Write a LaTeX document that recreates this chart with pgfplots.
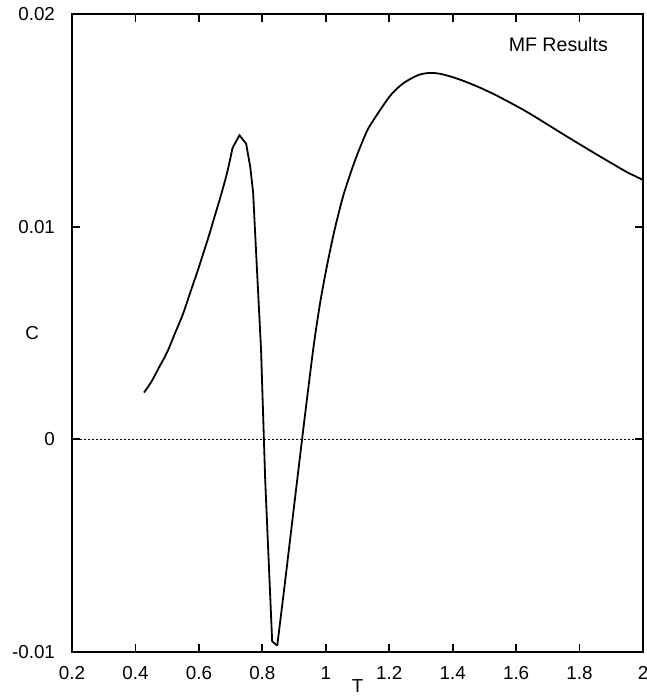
\documentclass[border=0pt]{standalone}
\usepackage{pgfplots}
\pgfplotsset{compat=1.18}
\usepackage{fontspec}
\setmainfont{Liberation Sans}

\begin{document}
\begin{tikzpicture}
  % 1 px of the reference = 0.5pt
  \useasboundingbox (-36pt,-22pt) rectangle (287.5pt,326pt);
  \begin{axis}[
      scale only axis,
      width=285.5pt, height=319pt,
      xmin=0.2, xmax=2, ymin=-0.01, ymax=0.02,
      xtick={0.2,0.4,0.6,0.8,1,1.2,1.4,1.6,1.8,2},
      xticklabels={0.2,0.4,0.6,0.8,1,1.2,1.4,1.6,1.8,2},
      ytick={-0.01,0,0.01,0.02},
      yticklabels={-0.01,0,0.01,0.02},
      scaled y ticks=false,
      tick align=inside,
      major tick length=4pt,
      tick style={line width=0.9pt, black},
      axis line style={line width=1.2pt},
      tick label style={font=\fontsize{9.4pt}{11pt}\selectfont},
      xticklabel style={yshift=-3.5pt},
      yticklabel style={xshift=-5pt},
      label style={font=\fontsize{9.4pt}{11pt}\selectfont},
      xlabel={T},
      xlabel style={at={(axis description cs:0.5,0)}, anchor=north, inner sep=0pt, yshift=-13.5pt},
      ylabel={C},
      ylabel style={rotate=-90, at={(axis description cs:0,0.5)}, anchor=east, xshift=-13pt},
    ]
    \addplot[black, line width=0.3pt, dash pattern=on 1pt off 1pt] coordinates {(0.2,0) (2,0)};
    % smooth rise
    \addplot[black, line width=0.9pt, smooth] coordinates {
      (0.427,0.0022) (0.45,0.0027) (0.475,0.0034) (0.50,0.0041) (0.525,0.0050)
      (0.55,0.0059) (0.575,0.0070) (0.60,0.0081) (0.63,0.0095) (0.65,0.0105)
      (0.67,0.0115) (0.69,0.0126) (0.706,0.0137)
    };
    % sharp peak and dip
    \addplot[black, line width=0.9pt] coordinates {
      (0.706,0.0137) (0.728,0.0143) (0.749,0.0139) (0.762,0.0128) (0.771,0.0116)
      (0.780,0.0089) (0.796,0.0042) (0.809,-0.0019) (0.831,-0.0095) (0.847,-0.0097)
    };
    % recovery and broad maximum
    \addplot[black, line width=0.9pt, smooth] coordinates {
      (0.847,-0.0097) (0.87,-0.0069) (0.89,-0.0044) (0.91,-0.0019) (0.935,0.0012)
      (0.961,0.0043) (0.982,0.0064) (1.003,0.0081) (1.024,0.0096) (1.04,0.0106)
      (1.056,0.0115) (1.08,0.0126) (1.102,0.0135) (1.13,0.0145) (1.15,0.0150)
      (1.172,0.0155) (1.20,0.0161) (1.225,0.0165) (1.25,0.0168) (1.28,0.01705)
      (1.30,0.01717) (1.329,0.01723) (1.36,0.01719) (1.40,0.01703) (1.44,0.01682)
      (1.487,0.01653) (1.53,0.01623) (1.57,0.01592) (1.61,0.01560) (1.645,0.01530)
      (1.68,0.01498) (1.72,0.01461) (1.76,0.01424) (1.80,0.01388) (1.85,0.01343)
      (1.907,0.01293) (1.95,0.01256) (2.0,0.0122)
    };
    \node[font=\fontsize{9.8pt}{11pt}\selectfont] at (axis cs:1.733,0.01855) {MF Results};
  \end{axis}
\end{tikzpicture}
\end{document}
